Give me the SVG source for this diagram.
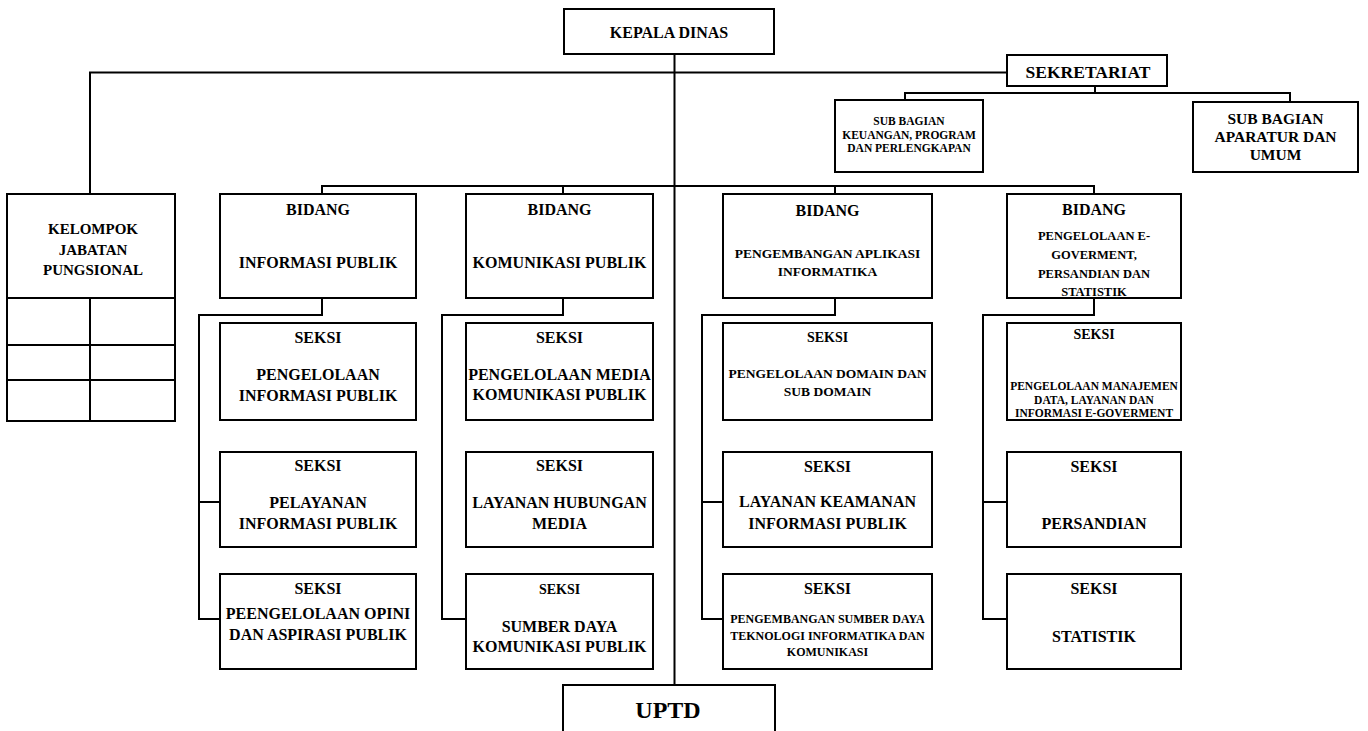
<svg xmlns="http://www.w3.org/2000/svg" width="1368" height="731" viewBox="0 0 1368 731">
<style>
.box{fill:#fff;stroke:#000;stroke-width:2}
.ln{fill:none;stroke:#000;stroke-width:2}
text{font-family:"Liberation Serif","Times New Roman",serif;font-weight:bold;text-anchor:middle;fill:#000}
.f16{font-size:16px}
.f14{font-size:14px}
.f135{font-size:13.5px}
.f125{font-size:12.5px}
.f12{font-size:12px}
.f115{font-size:11.5px}
</style>
<rect width="1368" height="731" fill="#fff"/>
<g id="connectors">
<path class="ln" d="M674.5,54 V685"/>
<path class="ln" d="M90,194 V72.5 H1007"/>
<path class="ln" d="M1095,86 V93 M905,100 V93 H1290 V102"/>
<path class="ln" d="M322,194 V186 H1094 V194 M563,186 V194 M835,186 V194"/>
<path class="ln" d="M322,298 V315 H199 V620 M199,502 H220 M199,619 H220"/>
<path class="ln" d="M563,298 V315 H442 V620 M442,619 H466"/>
<path class="ln" d="M835,298 V315 H702 V620 M702,502 H723 M702,619 H723"/>
<path class="ln" d="M1094,298 V315 H983 V620 M983,502 H1007 M983,619 H1007"/>
</g>
<g id="kepala-dinas">
<rect class="box" x="564" y="9" width="210" height="45"/>
<text class="f16" x="669" y="38">KEPALA DINAS</text>
</g>
<g id="sekretariat">
<rect class="box" x="1007" y="55" width="160" height="31"/>
<text x="1088" y="78" style="font-size:17.5px">SEKRETARIAT</text>
</g>
<g id="subbag-keuangan">
<rect class="box" x="835" y="100" width="148" height="72"/>
<text class="f115" x="909" y="125">SUB BAGIAN</text>
<text class="f115" x="909" y="138.5">KEUANGAN, PROGRAM</text>
<text class="f115" x="909" y="152">DAN PERLENGKAPAN</text>
</g>
<g id="subbag-aparatur">
<rect class="box" x="1193" y="102" width="165" height="70"/>
<text x="1275.5" y="123.5" style="font-size:15.5px">SUB BAGIAN</text>
<text x="1275.5" y="142" style="font-size:15.5px">APARATUR DAN</text>
<text x="1275.5" y="160" style="font-size:15.5px">UMUM</text>
</g>
<g id="kelompok-jabatan">
<rect class="box" x="7" y="194" width="168" height="227"/>
<path class="ln" d="M7,298 H175 M7,345 H175 M7,380 H175 M90,298 V421"/>
<text x="93" y="233.5" style="font-size:15px">KELOMPOK</text>
<text x="93" y="254.5" style="font-size:15px">JABATAN</text>
<text x="93" y="275" style="font-size:15px">PUNGSIONAL</text>
</g>
<g id="bidang-informasi">
<rect class="box" x="220" y="194" width="196" height="104"/>
<text class="f16" x="318" y="215">BIDANG</text>
<text class="f16" x="318" y="267.5">INFORMASI PUBLIK</text>
</g>
<g id="bidang-komunikasi">
<rect class="box" x="466" y="194" width="187" height="104"/>
<text class="f16" x="559.5" y="215">BIDANG</text>
<text class="f16" x="559.5" y="268">KOMUNIKASI PUBLIK</text>
</g>
<g id="bidang-aplikasi">
<rect class="box" x="723" y="194" width="209" height="104"/>
<text class="f16" x="827.5" y="215.5">BIDANG</text>
<text class="f135" x="827.5" y="258">PENGEMBANGAN APLIKASI</text>
<text class="f135" x="827.5" y="275.5">INFORMATIKA</text>
</g>
<g id="bidang-egov">
<rect class="box" x="1007" y="194" width="174" height="104"/>
<text class="f16" x="1094" y="215">BIDANG</text>
<text class="f125" x="1094" y="240">PENGELOLAAN E-</text>
<text class="f125" x="1094" y="259">GOVERMENT,</text>
<text class="f125" x="1094" y="277.5">PERSANDIAN DAN</text>
<text class="f125" x="1094" y="296">STATISTIK</text>
</g>
<g id="seksi-pengelolaan-informasi">
<rect class="box" x="220" y="323" width="196" height="97"/>
<text class="f16" x="318" y="342.5">SEKSI</text>
<text class="f16" x="318" y="380">PENGELOLAAN</text>
<text class="f16" x="318" y="401">INFORMASI PUBLIK</text>
</g>
<g id="seksi-pelayanan-informasi">
<rect class="box" x="220" y="452" width="196" height="95"/>
<text class="f16" x="318" y="471">SEKSI</text>
<text class="f16" x="318" y="507.5">PELAYANAN</text>
<text class="f16" x="318" y="528.5">INFORMASI PUBLIK</text>
</g>
<g id="seksi-opini">
<rect class="box" x="220" y="574" width="196" height="95"/>
<text class="f16" x="318" y="594">SEKSI</text>
<text class="f16" x="318" y="618.5">PEENGELOLAAN OPINI</text>
<text class="f16" x="318" y="640">DAN ASPIRASI PUBLIK</text>
</g>
<g id="seksi-media">
<rect class="box" x="466" y="323" width="187" height="97"/>
<text class="f16" x="559.5" y="342.5">SEKSI</text>
<text class="f16" x="559.5" y="380">PENGELOLAAN MEDIA</text>
<text class="f16" x="559.5" y="400">KOMUNIKASI PUBLIK</text>
</g>
<g id="seksi-hubungan-media">
<rect class="box" x="466" y="452" width="187" height="95"/>
<text class="f16" x="559.5" y="471">SEKSI</text>
<text class="f16" x="559.5" y="507.5">LAYANAN HUBUNGAN</text>
<text class="f16" x="559.5" y="529">MEDIA</text>
</g>
<g id="seksi-sumber-daya-komunikasi">
<rect class="box" x="466" y="574" width="187" height="95"/>
<text class="f14" x="559.5" y="593.5">SEKSI</text>
<text class="f16" x="559.5" y="631.5">SUMBER DAYA</text>
<text class="f16" x="559.5" y="652">KOMUNIKASI PUBLIK</text>
</g>
<g id="seksi-domain">
<rect class="box" x="723" y="323" width="209" height="97"/>
<text class="f14" x="827.5" y="342">SEKSI</text>
<text class="f135" x="827.5" y="378">PENGELOLAAN DOMAIN DAN</text>
<text class="f135" x="827.5" y="396">SUB DOMAIN</text>
</g>
<g id="seksi-keamanan">
<rect class="box" x="723" y="452" width="209" height="95"/>
<text class="f16" x="827.5" y="471.5">SEKSI</text>
<text class="f16" x="827.5" y="507">LAYANAN KEAMANAN</text>
<text class="f16" x="827.5" y="529">INFORMASI PUBLIK</text>
</g>
<g id="seksi-sumber-daya-ti">
<rect class="box" x="723" y="574" width="209" height="95"/>
<text class="f16" x="827.5" y="594">SEKSI</text>
<text class="f12" x="827.5" y="623">PENGEMBANGAN SUMBER DAYA</text>
<text class="f12" x="827.5" y="639.5">TEKNOLOGI INFORMATIKA DAN</text>
<text class="f12" x="827.5" y="656">KOMUNIKASI</text>
</g>
<g id="seksi-manajemen-data">
<rect class="box" x="1007" y="323" width="174" height="97"/>
<text class="f14" x="1094" y="338.5">SEKSI</text>
<text class="f115" x="1094" y="390">PENGELOLAAN MANAJEMEN</text>
<text class="f115" x="1094" y="403.5">DATA, LAYANAN DAN</text>
<text class="f115" x="1094" y="417">INFORMASI E-GOVERMENT</text>
</g>
<g id="seksi-persandian">
<rect class="box" x="1007" y="452" width="174" height="95"/>
<text class="f16" x="1094" y="471.5">SEKSI</text>
<text class="f16" x="1094" y="528.5">PERSANDIAN</text>
</g>
<g id="seksi-statistik">
<rect class="box" x="1007" y="574" width="174" height="95"/>
<text class="f16" x="1094" y="594">SEKSI</text>
<text class="f16" x="1094" y="641.5">STATISTIK</text>
</g>
<g id="uptd">
<path class="ln" d="M563,733 V685 H775 V733"/>
<text x="668" y="718" style="font-size:24px">UPTD</text>
</g>
</svg>
